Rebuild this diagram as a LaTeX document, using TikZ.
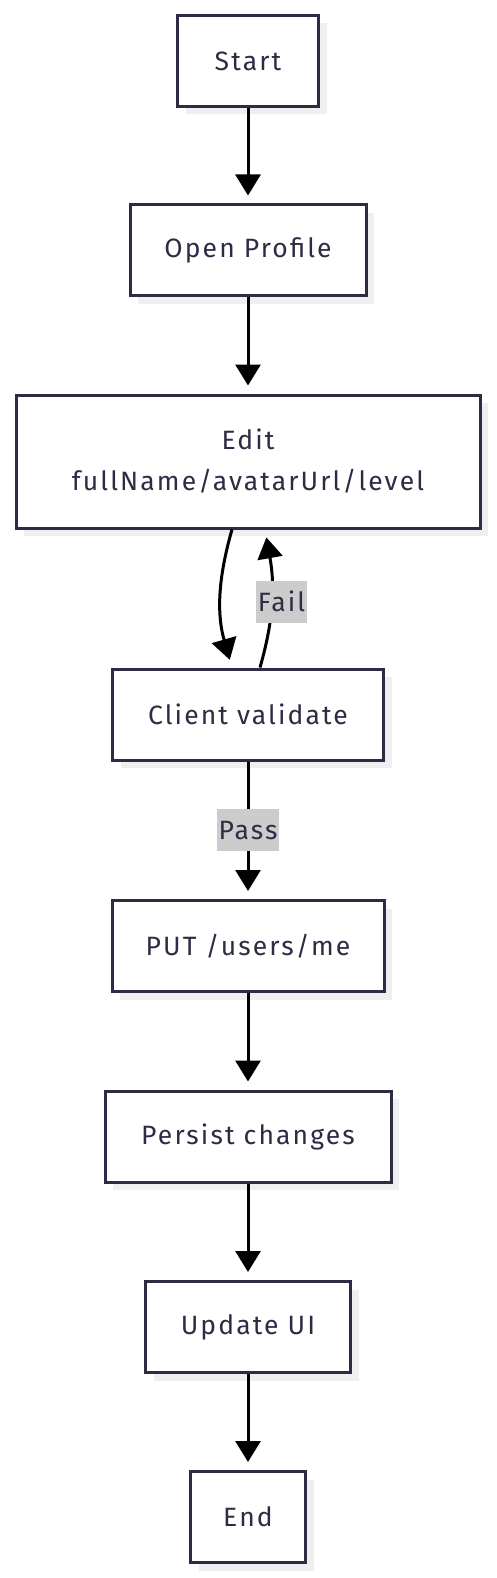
\documentclass[tikz,border=0pt]{standalone}
\usepackage{fontspec}
\setmainfont[LetterSpace=8]{Fira Sans}
\usetikzlibrary{arrows.meta,shadows}
\definecolor{ink}{HTML}{2C2C44}
\definecolor{shade}{HTML}{EFEFEF}
\definecolor{tag}{HTML}{CCCCCC}
\tikzset{
	box/.style={draw=ink,line width=3pt,fill=white,text=ink,minimum height=91pt,
		font=\fontsize{26.5}{41}\selectfont,align=center,
		drop shadow={shadow xshift=8pt,shadow yshift=-8pt,fill=shade,opacity=1}},
	flow/.style={line width=3pt,-{Triangle[width=25pt,length=21pt]},shorten >=8pt},
	tagbox/.style={fill=tag,text=ink,font=\fontsize{26.5}{30}\selectfont,inner xsep=2pt,minimum height=42pt}
}
\begin{document}
\begin{tikzpicture}[x=1pt,y=1pt]
	\useasboundingbox(0,0)rectangle(496,-1578);
	\node[box,minimum width=141pt](start)at(248,-61){Start};
	\node[box,minimum width=236pt](open)at(248,-250.5){Open Profile};
	\node[box,minimum width=464pt,minimum height=133pt](edit)at(248,-461.5){Edit\\fullName/avatarUrl/level};
	\node[box,minimum width=271pt](client)at(248,-714.5){Client validate};
	\node[box,minimum width=272pt](put)at(248,-946){PUT /users/me};
	\node[box,minimum width=286pt](persist)at(248,-1136.5){Persist changes};
	\node[box,minimum width=205pt](update)at(248,-1327){Update UI};
	\node[box,minimum width=115pt](finish)at(248,-1517){End};
	\draw[flow](start)--(open);
	\draw[flow](open)--(edit);
	\draw[flow]([xshift=-16pt]edit.south)to[out=-106,in=106]([xshift=-16pt]client.north);
	\draw[flow]([xshift=12pt]client.north)to[out=74,in=-80]node[tagbox,pos=.48,xshift=10pt]{Fail}([xshift=17pt]edit.south);
	\draw[flow](client)--node[tagbox]{Pass}(put);
	\draw[flow](put)--(persist);
	\draw[flow](persist)--(update);
	\draw[flow](update)--(finish);
\end{tikzpicture}
\end{document}
